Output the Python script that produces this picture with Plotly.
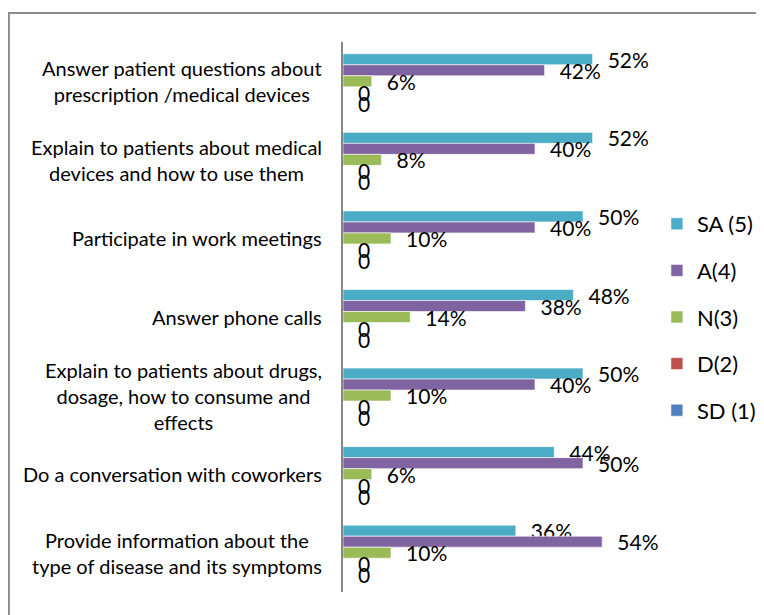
import plotly.graph_objects as go

categories = [
    "Answer patient questions about<br>prescription /medical devices",
    "Explain to patients about medical<br>devices and how to use them",
    "Participate in work meetings",
    "Answer phone calls",
    "Explain to patients about drugs,<br>dosage, how to consume and<br>effects",
    "Do a conversation with coworkers",
    "Provide information about the<br>type of disease and its symptoms",
]
series_names = ["SA (5)", "A(4)", "N(3)", "D(2)", "SD (1)"]
sa = [52, 52, 50, 48, 50, 44, 36]
a = [42, 40, 40, 38, 40, 50, 54]
n = [6, 8, 10, 14, 10, 6, 10]
d = [0, 0, 0, 0, 0, 0, 0]
sd = [0, 0, 0, 0, 0, 0, 0]
colors = ["#4BACC6", "#8064A2", "#9BBB59", "#C0504D", "#4F81BD"]

FONT = "Lato"
NB = "\u00a0"

fig = go.Figure()
for name, vals, col in zip(series_names, [sa, a, n, d, sd], colors):
    texts = [NB * 2 + "\u200a" + ("0" if v == 0 else f"{v}%") for v in vals]
    fig.add_trace(go.Bar(
        y=categories, x=vals, name=name, orientation="h",
        marker=dict(color=col, line=dict(color="white", width=0.6)),
        text=texts, textposition="outside", constraintext="none",
        textfont=dict(family=FONT, size=21, color="black"),
        cliponaxis=False, legendgroup=name,
    ))

for cat in categories:
    fig.add_annotation(
        x=-0.066, xref="paper", y=cat, yref="y", text=cat,
        xanchor="right", yanchor="middle", align="center", showarrow=False,
        font=dict(family=FONT, size=20, color="black"),
    )

fig.add_shape(type="rect", xref="paper", yref="paper",
              x0=-1.16, x1=1.5, y0=-0.08, y1=1.0527,
              line=dict(color="#8c8c8c", width=2), fillcolor="rgba(0,0,0,0)", layer="below")

fig.update_layout(
    width=756, height=607,
    margin=dict(l=335, r=133, t=34, b=23, autoexpand=False),
    paper_bgcolor="white", plot_bgcolor="white",
    barmode="group", bargap=0.3, bargroupgap=0,
    showlegend=True,
    legend=dict(x=1.09, xanchor="left", y=0.5, yanchor="middle",
                font=dict(family=FONT, size=22, color="black"),
                traceorder="grouped", tracegroupgap=15, bgcolor="rgba(0,0,0,0)"),
    xaxis=dict(range=[0, 60], visible=False),
    yaxis=dict(autorange="reversed", showticklabels=False, showgrid=False,
               showline=True, linecolor="#868686", linewidth=2, ticks="", zeroline=False),
    font=dict(family=FONT),
)

fig.write_html("out.html")
